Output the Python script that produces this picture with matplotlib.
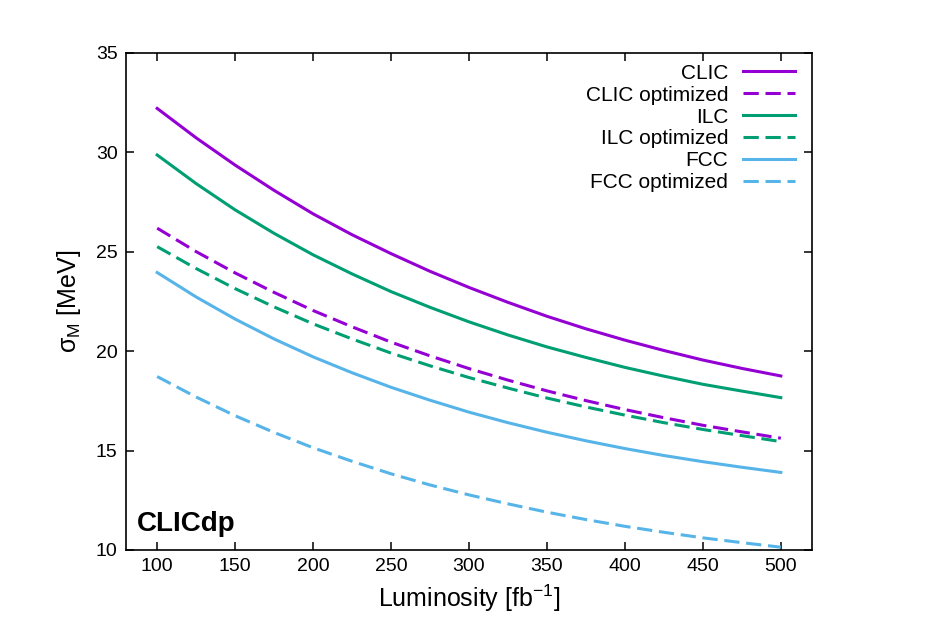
import numpy as np
import matplotlib
matplotlib.use("Agg")
import matplotlib.pyplot as plt

plt.rcParams['font.family'] = ['Liberation Sans', 'DejaVu Sans']
plt.rcParams['mathtext.fontset'] = 'custom'
plt.rcParams['mathtext.rm'] = 'Liberation Sans'
plt.rcParams['mathtext.it'] = 'Liberation Sans:italic'

# luminosity points (fb^-1) and mass resolution (MeV)
lumi = [100, 125, 150, 175, 200, 225, 250, 275, 300,
        325, 350, 375, 400, 425, 450, 475, 500]
clic = [32.2, 30.72, 29.35, 28.08, 26.9, 25.85, 24.9, 24.01, 23.2,
        22.45, 21.75, 21.12, 20.55, 20.03, 19.55, 19.13, 18.75]
clic_opt = [26.18, 25.0, 23.93, 22.95, 22.04, 21.22, 20.45, 19.76, 19.12,
            18.54, 18.0, 17.51, 17.06, 16.65, 16.27, 15.94, 15.62]
ilc = [29.86, 28.42, 27.1, 25.92, 24.84, 23.88, 22.99, 22.2, 21.47,
       20.81, 20.21, 19.68, 19.18, 18.74, 18.33, 17.99, 17.66]
ilc_opt = [25.25, 24.15, 23.14, 22.22, 21.37, 20.61, 19.9, 19.26, 18.67,
           18.14, 17.64, 17.19, 16.78, 16.4, 16.06, 15.75, 15.45]
fcc = [23.95, 22.72, 21.61, 20.61, 19.71, 18.91, 18.18, 17.53, 16.93,
       16.4, 15.92, 15.49, 15.1, 14.75, 14.44, 14.16, 13.9]
fcc_opt = [18.72, 17.69, 16.75, 15.91, 15.14, 14.46, 13.83, 13.27, 12.77,
           12.32, 11.9, 11.53, 11.19, 10.89, 10.61, 10.37, 10.14]

series = [
    ('CLIC', clic, '#9400d3', '-'),
    ('CLIC optimized', clic_opt, '#9400d3', '--'),
    ('ILC', ilc, '#009e73', '-'),
    ('ILC optimized', ilc_opt, '#009e73', '--'),
    ('FCC', fcc, '#56b4e9', '-'),
    ('FCC optimized', fcc_opt, '#56b4e9', '--'),
]

fig = plt.figure(figsize=(9.43, 6.24), dpi=100)
ax = fig.add_axes([0.1336, 0.1186, 0.7275, 0.7969])

for name, vals, col, ls in series:
    line, = ax.plot(lumi, vals, color=col, linestyle=ls, linewidth=2.2, label=name)
    if ls == '--':
        line.set_dashes((5, 2.2))

ax.set_xlim(80, 520)
ax.set_ylim(10, 35)
ax.set_xticks(np.arange(100, 501, 50))
ax.set_yticks(np.arange(10, 36, 5))
ax.tick_params(direction='in', top=True, right=True, length=5.5, width=1.1,
               labelsize=14, pad=6)
for sp in ax.spines.values():
    sp.set_linewidth(1.2)

ax.set_xlabel('Luminosity [fb$^{-1}$]', fontsize=18, labelpad=5)
ax.set_ylabel('σ$_{\\mathrm{M}}$ [MeV]', fontsize=18, labelpad=9)

leg = ax.legend(loc='upper right', bbox_to_anchor=(0.975, 0.978), frameon=False,
                markerfirst=False, fontsize=15, handlelength=2.5,
                handletextpad=0.7, labelspacing=0.14, borderpad=0,
                borderaxespad=0)

ax.text(0.0156, 0.039, 'CLICdp', transform=ax.transAxes, fontsize=20,
        fontweight='bold', va='baseline', ha='left')

fig.savefig('out.png', dpi=100)
